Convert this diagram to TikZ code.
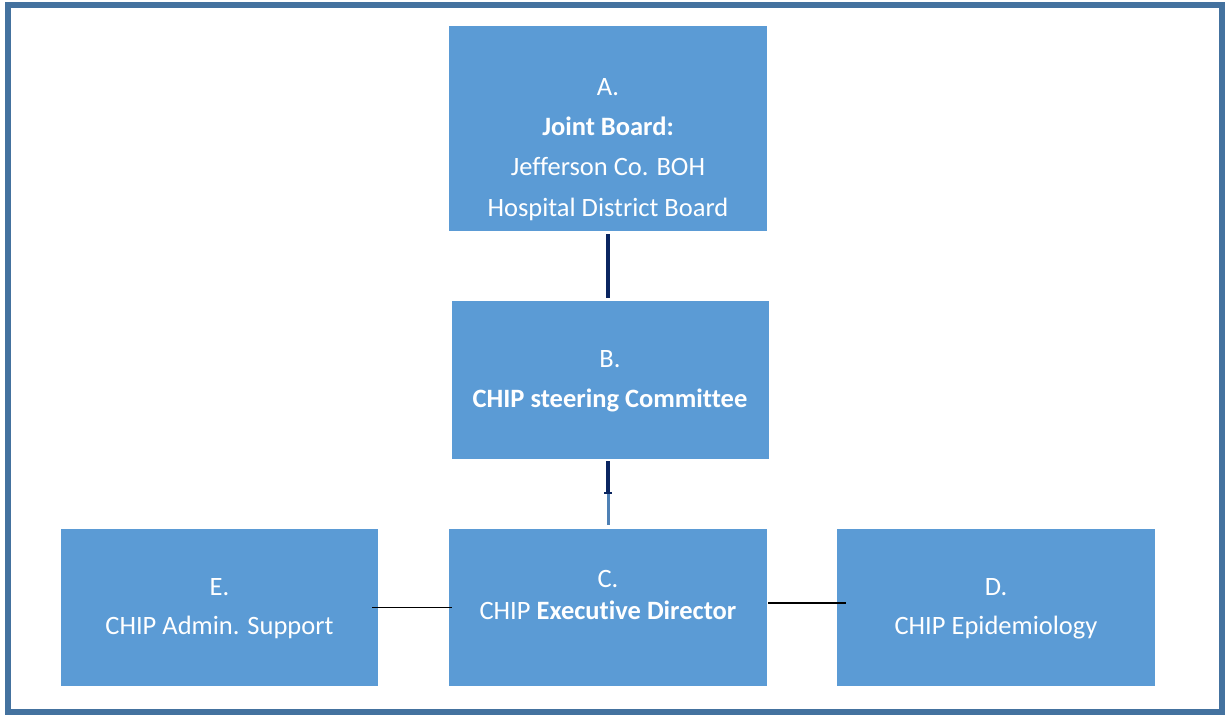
\documentclass[tikz,border=0pt]{standalone}
\usepackage{fontspec}
\setmainfont[Ligatures={NoCommon}]{Carlito}
\usetikzlibrary{calc}
\definecolor{boxblue}{HTML}{5B9BD5}
\definecolor{framecol}{HTML}{44729F}
\definecolor{navy}{HTML}{0A2560}
\definecolor{steel}{HTML}{4F81B5}
\begin{document}
\begin{tikzpicture}[x=1pt,y=-1pt,
  box/.style={fill=boxblue,draw=none,inner sep=0pt,minimum width=318pt,minimum height=157pt},
  txt/.style={text=white,inner sep=0pt,anchor=base,font=\fontsize{26.5}{31}\selectfont},
  link/.style={draw=navy,line width=3.2pt},
  side/.style={draw=black,line width=1.5pt}]
\useasboundingbox (0,0) rectangle (1225,715);
% outer frame
\draw[framecol,line width=6pt] (8,5) rectangle (1222,712);
% boxes
\node[box,minimum height=205pt] (A) at (608,128.5) {};
\node[box,minimum width=317pt,minimum height=158pt] (B) at (610.5,380) {};
\node[box] (C) at (608,607.5) {};
\node[box,minimum width=317pt] (E) at (219.5,607.5) {};
\node[box] (D) at (996,607.5) {};
% texts
\node[txt] (a1) at (608,95) {A.};
\node[txt] (a2) at (608,135) {\textbf{Joint Board:}};
\node[txt] (a3) at (608,175) {Jefferson Co. BOH};
\node[txt] (a4) at (608,216) {Hospital District Board};
\node[txt] (b1) at (610,367) {B.};
\node[txt] (b2) at (610,407) {\textbf{CHIP steering Committee}};
\node[txt] (c1) at (608,587) {C.};
\node[txt] (c2) at (608,619) {CHIP \textbf{Executive Director}};
\node[txt] (e1) at (219.5,595) {E.};
\node[txt] (e2) at (219.5,634) {CHIP Admin. Support};
\node[txt] (d1) at (996,595) {D.};
\node[txt] (d2) at (996,634) {CHIP Epidemiology};
% connectors
\draw[link] ($(A.south)+(0,3)$) -- ($(B.north)+(-2.5,-3)$);
\coordinate (m) at (608,493);
\draw[link] ($(B.south)+(-2.5,2)$) -- (m);
\draw[steel,line width=3pt] (m) -- ($(C.north)+(0,-4)$);
\draw[navy,line width=2pt] ($(m)+(-4,0)$) -- ($(m)+(4,0)$);
\draw[side,shorten <=-6pt,shorten >=-3pt] (E.east) -- (C.west);
\draw[side,shorten <=1pt,shorten >=-9pt] ([yshift=4.5pt]C.east) -- ([yshift=4.5pt]D.west);
\end{tikzpicture}
\end{document}
